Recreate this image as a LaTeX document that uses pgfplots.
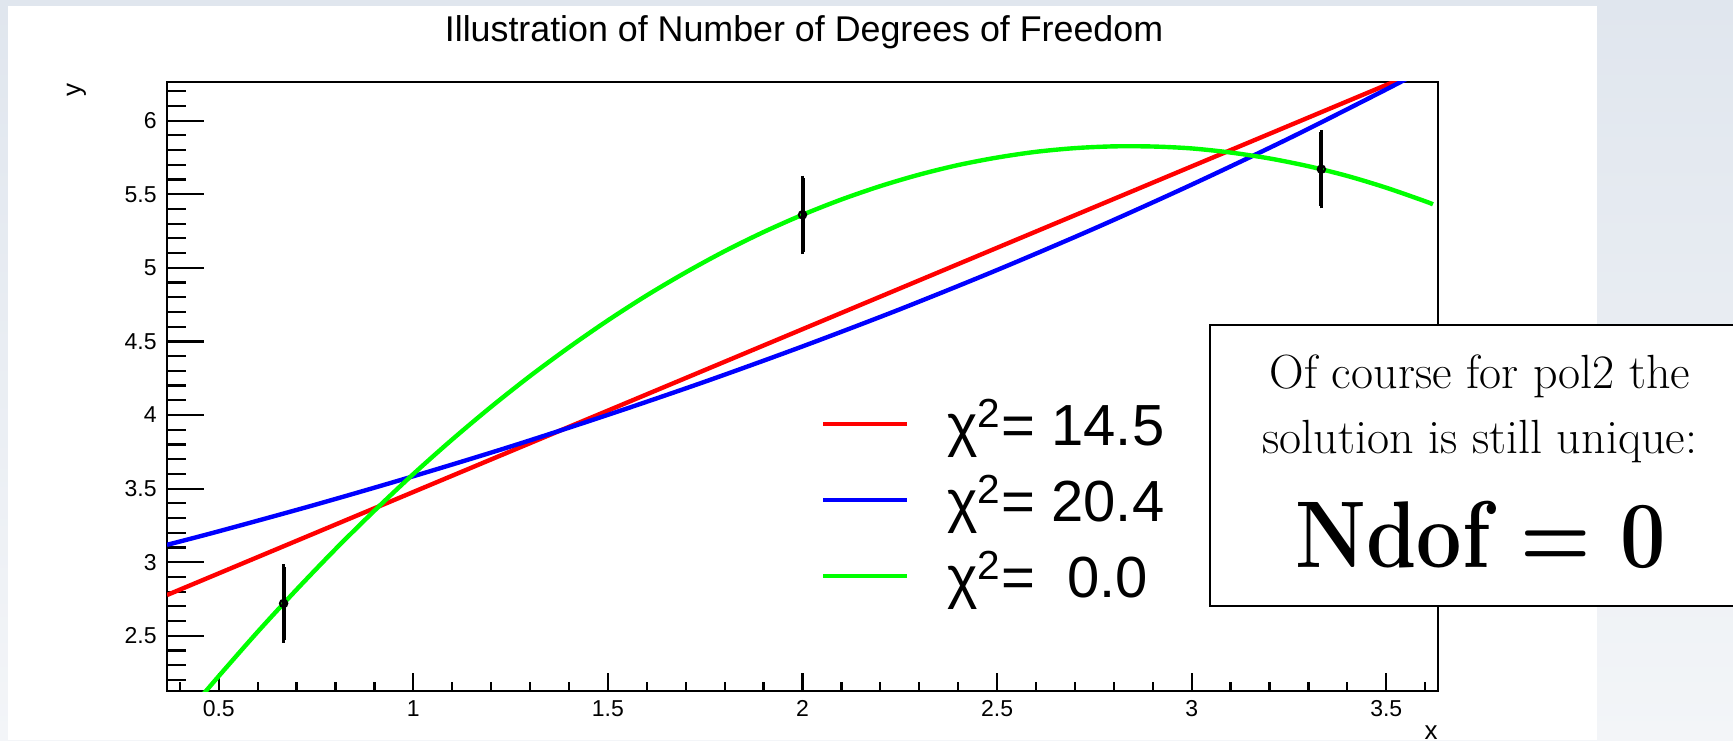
\documentclass[border=0pt]{standalone}
\usepackage{pgfplots}
\pgfplotsset{compat=1.18}
\usepackage{fontspec}
\usepackage{graphicx}
\newfontfamily\helv{Liberation Sans}

\definecolor{bgA}{RGB}{224,230,238}
\definecolor{bgB}{RGB}{243,245,248}
\definecolor{rootgreen}{RGB}{0,255,0}

\begin{document}
\begin{tikzpicture}
\useasboundingbox (0pt,0pt) rectangle (866.5pt,370pt);
\clip (0pt,0pt) rectangle (866.5pt,370pt);
\shade[top color=bgA, bottom color=bgB] (0pt,0pt) rectangle (866.5pt,370pt);
\fill[white] (4pt,0pt) rectangle (798.5pt,367pt);
\node[font=\helv\fontsize{17.9}{21}\selectfont, anchor=base, inner sep=0pt] at (402pt,349pt) {Illustration of Number of Degrees of Freedom};

% axis A: y ticks (long)
\begin{axis}[
  at={(83.5pt,24.5pt)}, anchor=south west, scale only axis,
  width=635.5pt, height=304.7pt,
  xmin=0.367, xmax=3.633, ymin=2.125, ymax=6.265,
  axis line style={line width=1pt},
  xtick=\empty,
  ytick={2.5,3,3.5,4,4.5,5,5.5,6},
  minor ytick={2.2,2.3,2.4,2.6,2.7,2.8,2.9,3.1,3.2,3.3,3.4,3.6,3.7,3.8,3.9,4.1,4.2,4.3,4.4,4.6,4.7,4.8,4.9,5.1,5.2,5.3,5.4,5.6,5.7,5.8,5.9,6.1,6.2},
  tick pos=left, tick align=inside,
  major tick length=18.5pt, minor tick length=9.5pt,
  every tick/.style={black, line width=1.1pt},
  /pgf/number format/assume math mode=true,
  yticklabel style={font=\helv\fontsize{11.5}{13}\selectfont, anchor=east, inner sep=0pt, xshift=-5pt},
]
\end{axis}

% axis B: data, x ticks, legend
\begin{axis}[
  at={(83.5pt,24.5pt)}, anchor=south west, scale only axis,
  width=635.5pt, height=304.7pt,
  xmin=0.367, xmax=3.633, ymin=2.125, ymax=6.265,
  axis line style={line width=1pt},
  ytick=\empty,
  xtick={0.5,1,1.5,2,2.5,3,3.5},
  minor xtick={0.4,0.6,0.7,0.8,0.9,1.1,1.2,1.3,1.4,1.6,1.7,1.8,1.9,2.1,2.2,2.3,2.4,2.6,2.7,2.8,2.9,3.1,3.2,3.3,3.4,3.6},
  tick pos=left, tick align=inside,
  major tick length=9pt, minor tick length=4.5pt,
  every tick/.style={black, line width=1.1pt},
  /pgf/number format/assume math mode=true,
  xticklabel style={font=\helv\fontsize{11.5}{13}\selectfont, anchor=north, inner sep=0pt, yshift=-4.5pt},
  xlabel={x},
  xlabel style={at={(axis description cs:1,-0.079)}, anchor=base east, inner sep=0pt, font=\helv\fontsize{13}{14}\selectfont},
  ylabel={y},
  ylabel style={at={(axis description cs:-0.068,0.998)}, anchor=base east, inner sep=0pt, font=\helv\fontsize{13}{14}\selectfont},
  clip=true,
  legend cell align=left,
  legend style={at={(0.5146,0.3134)}, anchor=west, draw=none, fill=none,
    inner sep=0pt, outer sep=0pt, row sep=13.25pt, column sep=19pt,
    font=\helv\fontsize{29}{35}\selectfont, nodes={inner sep=0pt}},
  legend image code/.code={\draw[#1] (0pt,0pt) -- (42pt,0pt);},
]
\addplot[red, line width=2.2pt] coordinates {(0.367,2.777) (3.633,6.389)};
\addlegendentry{χ\textsuperscript{2}= 14.5}
\addplot[blue, line width=2.2pt, smooth] coordinates {
(0.367,3.118) (0.5,3.210) (0.75,3.392) (1.0,3.584) (1.25,3.786) (1.5,4.001)
(1.75,4.227) (2.0,4.466) (2.25,4.718) (2.5,4.985) (2.75,5.267) (3.0,5.565)
(3.25,5.879) (3.5,6.212) (3.633,6.396)};
\addlegendentry{χ\textsuperscript{2}= 20.4}
\addplot[rootgreen, line width=2.2pt, smooth] coordinates {
(0.40,1.912) (0.45,2.071) (0.5,2.226) (0.6,2.527) (0.7,2.814) (0.8,3.089)
(0.9,3.350) (1.0,3.599) (1.1,3.834) (1.2,4.056) (1.3,4.265) (1.4,4.460)
(1.5,4.643) (1.6,4.813) (1.7,4.969) (1.8,5.113) (1.9,5.243) (2.0,5.360)
(2.1,5.464) (2.2,5.555) (2.3,5.633) (2.4,5.698) (2.5,5.749) (2.6,5.788)
(2.7,5.813) (2.8,5.825) (2.9,5.824) (3.0,5.811) (3.1,5.783) (3.2,5.743)
(3.3,5.690) (3.4,5.624) (3.5,5.544) (3.6,5.452) (3.62,5.431)};
\addlegendentry{χ\textsuperscript{2}=\ \ 0.0}
\addplot[black, only marks, mark=o, mark size=1.8pt, mark options={line width=1.1pt}, forget plot,
  error bars/.cd, y dir=both, y explicit,
  error bar style={line width=2pt},
  error mark options={line width=1.8pt, mark size=1.2pt}]
  coordinates {(0.6667,2.72) +- (0,0.25) (2.0,5.36) +- (0,0.25) (3.3333,5.67) +- (0,0.25)};
\end{axis}

\draw[line width=1.2pt, fill=white] (605pt,67pt) rectangle (880pt,207.5pt);
\node[anchor=base, inner sep=0pt, font=\fontsize{24}{28}\selectfont] at (740pt,176pt) {Of course for pol2 the};
\node[anchor=base, inner sep=0pt, font=\fontsize{24}{28}\selectfont] at (740pt,143.5pt) {solution is still unique:};
\node[anchor=base, inner sep=0pt] at (740.5pt,86.5pt) {\scalebox{0.85}[1]{\fontsize{47.4}{50}\selectfont\bfseries Ndof = 0}};
\end{tikzpicture}
\end{document}
